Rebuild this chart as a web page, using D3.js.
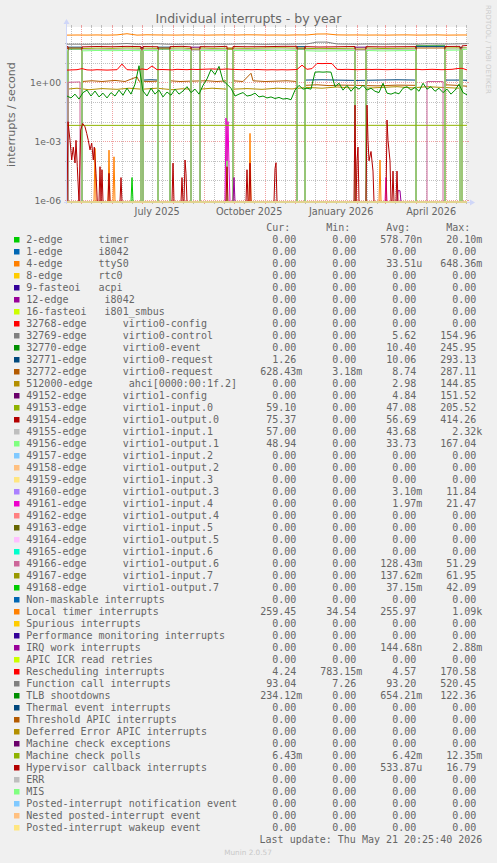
<!DOCTYPE html>
<html><head><meta charset="utf-8">
<script src="https://cdn.jsdelivr.net/npm/d3@7"></script>
<style>
html,body{margin:0;padding:0;background:#F0F0F0;}
svg{display:block;}
</style></head><body>
<svg id="c" width="497" height="863"></svg>
<script>
// ---------------- DATA ----------------
const startTime = Date.UTC(2025,3,16,20,25,40);
const endTime = Date.UTC(2026,4,21,20,25,40);
const yTickLabels = ["1e-06","1e-03","1e+00"];
const xTickLabels = ["July 2025","October 2025","January 2026","April 2026"];

const legendNames = [
"2-edge      timer","1-edge      i8042","4-edge      ttyS0","8-edge      rtc0","9-fasteoi   acpi",
"12-edge      i8042","16-fasteoi   i801_smbus","32768-edge      virtio0-config","32769-edge      virtio0-control",
"32770-edge      virtio0-event","32771-edge      virtio0-request","32772-edge      virtio0-request",
"512000-edge      ahci[0000:00:1f.2]","49152-edge      virtio1-config","49153-edge      virtio1-input.0",
"49154-edge      virtio1-output.0","49155-edge      virtio1-input.1","49156-edge      virtio1-output.1",
"49157-edge      virtio1-input.2","49158-edge      virtio1-output.2","49159-edge      virtio1-input.3",
"49160-edge      virtio1-output.3","49161-edge      virtio1-input.4","49162-edge      virtio1-output.4",
"49163-edge      virtio1-input.5","49164-edge      virtio1-output.5","49165-edge      virtio1-input.6",
"49166-edge      virtio1-output.6","49167-edge      virtio1-input.7","49168-edge      virtio1-output.7",
"Non-maskable interrupts","Local timer interrupts","Spurious interrupts","Performance monitoring interrupts",
"IRQ work interrupts","APIC ICR read retries","Rescheduling interrupts","Function call interrupts",
"TLB shootdowns","Thermal event interrupts","Threshold APIC interrupts","Deferred Error APIC interrupts",
"Machine check exceptions","Machine check polls","Hypervisor callback interrupts","ERR","MIS",
"Posted-interrupt notification event","Nested posted-interrupt event","Posted-interrupt wakeup event"];

const curVals = [0,0,0,0,0,0,0,0,0,0,1.26,0.62843,0,0,59.10,75.37,57.00,48.94,0,0,0,0,0,0,0,0,0,0,0,0,
0,259.45,0,0,0,0,4.24,93.04,0.23412,0,0,0,0,0.00643,0,0,0,0,0,0];
const minVals = [0,0,0,0,0,0,0,0,0,0,0,0.00318,0,0,0,0,0,0,0,0,0,0,0,0,0,0,0,0,0,0,
0,34.54,0,0,0,0,0.78315,7.26,0,0,0,0,0,0,0,0,0,0,0,0];
const avgVals = [578.70e-9,0,33.51e-6,0,0,0,0,0,5.62,10.40,10.06,8.74,2.98,4.84,47.08,56.69,43.68,33.73,0,0,0,
3.10e-3,1.97e-3,0,0,0,0,128.43e-3,137.62e-3,37.15e-3,0,255.97,0,0,144.68e-9,0,4.57,93.20,654.21e-3,0,0,0,0,
6.42e-3,533.87e-6,0,0,0,0,0];
const maxVals = [20.10e-3,0,648.36e-3,0,0,0,0,0,154.96,245.95,293.13,287.11,144.85,151.52,205.52,414.26,2320,167.04,0,0,0,
11.84,21.47,0,0,0,0,51.29,61.95,42.09,0,1090,0,0,2.88e-3,0,170.58,520.45,122.36,0,0,0,0,12.35e-3,16.79,0,0,0,0,0];

// series values: [day offset from start, interrupts / second]
const zeroSeries = [[0,0],[400,0]];
const timerSpikes = [[0,0],[64,0],[65,1.4e-5],[66,0],[400,0]];
const ttyS0Spikes = [[0,0],[27,0],[28,4.3e-4],[29,0],[41,0],[42,3.5e-4],[43,0],[46,0],[47,1.6e-4],[48,0],[182,0],[183,2.5e-3],[184,0],[312,0],[313,1.1e-4],[314,0],[400,0]];
const virtio0Control = [[0,0],[124,0],[124,45],[133,45],[133,0],[288,0],[288,45],[299,45],[299,0],[400,0]];
const virtio0Event = [[0,0],[1,0],[1,50],[15,50],[15,0],[91,0],[91,50],[103,50],[103,0],[160,0],[160,50],[166,50],[166,0],[230,0],[230,50],[238,50],[238,0],[349,0],[349,72],[378,72],[378,0],[400,0]];
const virtio0Req1 = [[0,0],[1,0],[1,62],[15,62],[15,0],[76,0],[76,1.3],[84,1.35],[91,1.3],[91,62],[103,62],[103,0],[230,0],[230,66],[238,66],[238,1.3],[255,1.35],[270,1.3],[290,1.25],[310,1.3],[330,1.35],[349,1.3],[349,66],[378,66],[378,1.3],[393,1.3],[393,60],[395,60],[395,1.3],[400,1.26]];
const virtio0Req2 = [[0,1.1],[1,1.1],[1,56],[15,56],[15,1.1],[25,1.2],[35,1.1],[48,1.25],[58,1.1],[70,1.9],[72,1.15],[82,1.1],[91,1.15],[91,56],[103,56],[103,1.2],[113,1.1],[124,1.15],[140,1.2],[150,1.1],[160,1.2],[160,56],[166,56],[166,1.2],[176,1.1],[184,2.9],[186,1.2],[198,1.1],[210,1.15],[220,1.2],[230,1.1],[230,56],[238,56],[238,0.7],[250,0.75],[262,0.68],[275,0.72],[290,0.7],[310,0.66],[330,0.72],[349,0.7],[349,56],[378,56],[378,0.75],[390,0.7],[400,0.63]];
const ahci = [[0,0.45],[10,0.5],[22,0.42],[35,0.48],[50,0.44],[62,0.5],[74,0.45],[74,50],[76,50],[76,0.45],[90,0.5],[105,0.42],[115,0.47],[124,0.45],[124,50],[133,50],[133,0.45],[145,0.5],[160,0.45],[160,50],[166,50],[166,0.45],[180,0.48],[195,0.44],[210,0.5],[225,0.46],[240,0.55],[255,0.5],[270,0.58],[288,0.5],[288,50],[299,50],[299,0.5],[315,0.55],[330,0.6],[345,0.52],[360,0.6],[375,0.55],[393,0.5],[393,50],[395,50],[395,0],[400,0]];
const virtio1Config = [[0,0],[74,0],[74,60],[76,60],[76,0],[124,0],[124,62],[133,62],[133,0],[288,0],[288,62],[299,62],[299,0],[400,0]];
const virtio1In0 = [[0,54],[1,54],[1,0],[15,0],[15,53],[30,55],[45,54],[60,56],[74,55],[74,0],[76,0],[76,55],[91,54],[91,0],[103,0],[103,55],[115,56],[124,53],[124,0],[133,0],[133,56],[146,54],[160,55],[160,0],[166,0],[166,55],[180,54],[200,56],[215,57],[230,55],[230,0],[238,0],[238,54],[252,52],[265,53],[278,54],[288,55],[288,0],[299,0],[299,56],[315,53],[330,54],[349,55],[349,0],[378,0],[378,56],[393,57],[393,0],[395,0],[395,58],[400,59.1]];
const virtio1Out0 = [[0,66],[1,66],[1,0],[15,0],[15,64],[30,67],[45,65],[60,68],[74,66],[74,0],[76,0],[76,67],[91,65],[91,0],[103,0],[103,66],[115,68],[124,64],[124,0],[133,0],[133,66],[146,65],[160,68],[160,0],[166,0],[166,67],[180,65],[200,66],[215,68],[230,68],[230,0],[238,0],[238,66],[252,63],[265,64],[278,66],[288,67],[288,0],[299,0],[299,66],[315,64],[330,65],[349,66],[349,0],[378,0],[378,67],[393,68],[393,0],[395,0],[395,72],[400,75.4]];
const virtio1In1 = [[0,47],[1,47],[1,0],[15,0],[15,46],[30,48],[45,47],[60,49],[74,47],[74,0],[76,0],[76,48],[91,47],[91,0],[103,0],[103,48],[115,49],[124,46],[124,0],[133,0],[133,48],[146,47],[160,48],[160,0],[166,0],[166,48],[180,47],[200,48],[215,50],[230,48],[230,0],[238,0],[238,47],[252,45],[265,46],[278,47],[288,48],[288,0],[299,0],[299,48],[315,46],[330,47],[349,48],[349,0],[378,0],[378,49],[393,50],[393,0],[395,0],[395,54],[400,57]];
const virtio1Out1 = [[0,41],[1,41],[1,0],[15,0],[15,40],[30,42],[45,41],[60,42],[74,41],[74,0],[76,0],[76,42],[91,41],[91,0],[103,0],[103,42],[115,43],[124,40],[124,0],[133,0],[133,42],[146,41],[160,42],[160,0],[166,0],[166,42],[180,41],[200,42],[215,43],[230,42],[230,0],[238,0],[238,41],[252,39],[265,40],[278,41],[288,42],[288,0],[299,0],[299,42],[315,40],[330,41],[349,42],[349,0],[378,0],[378,43],[393,44],[393,0],[395,0],[395,46],[400,48.9]];
const virtio1In4 = [[0,0],[158,0],[159,0.015],[160,1e-4],[161,0.01],[162,5e-5],[163,0],[318,0],[319,1.4e-5],[320,0],[400,0]];
const virtio1Out6 = [[0,0],[1,0],[1,1.0],[13,1.05],[13,0],[360,0],[360,1.1],[376,1.1],[376,0],[400,0]];
const irqWork = [[0,0],[166,0],[167,1.4e-5],[168,0],[330,0],[331,3e-6],[333,3e-6],[334,0],[400,0]];
// sampled every 10 days
const localTimer = [255,258,256,260,255,262,300,255,265,260,258,256,262,258,255,260,262,258,265,262,256,258,255,262,260,290,292,262,258,260,256,258,255,260,262,256,258,262,255,258,259];
const functionCall = [88,88,87,89,88,90,95,88,90,92,88,87,89,88,90,89,88,90,92,88,87,89,88,90,91,112,112,90,89,88,90,89,88,90,89,88,92,90,89,91,93];
// sampled every 5 days
const rescheduling = [4.2,4.3,4.4,5.0,4.3,4.2,4.4,4.3,4.2,4.3,4.4,8.5,4.4,4.3,4.2,4.8,4.4,6.8,4.4,4.5,4.4,4.3,4.6,4.5,4.4,4.6,4.5,4.6,4.7,4.8,4.7,4.6,4.8,4.6,4.5,4.4,4.5,4.4,4.5,4.4,4.3,4.4,4.3,4.4,4.3,4.4,4.5,7.5,4.6,5.0,9.2,9.0,9.2,9.0,4.6,4.5,4.6,4.5,4.4,4.5,4.6,4.5,4.6,4.5,4.4,4.5,4.6,4.5,4.6,4.5,4.6,4.4,4.5,4.6,4.5,4.4,4.5,4.6,5.0,5.2,4.3];
// sampled every 4 days
const tlbShootdowns = [0.2,0.16,0.25,0.14,0.3,0.4,0.2,0.36,0.18,0.28,0.16,0.3,0.2,0.4,0.22,0.5,0.25,0.8,7,0.36,0.2,0.5,0.25,0.4,0.18,0.32,0.22,0.45,0.25,0.36,0.6,0.3,0.45,0.25,0.7,1.5,4.5,2.5,6.5,1.2,0.8,0.5,0.2,0.25,0.3,0.2,0.22,0.28,0.18,0.2,0.16,0.18,0.15,0.17,0.14,0.15,0.13,0.4,0.7,0.45,0.5,0.45,3.3,3.4,3.3,3.4,3.3,0.6,0.9,0.4,0.7,0.35,0.6,0.45,0.7,0.4,0.5,0.35,0.3,0.9,0.28,0.25,0.3,0.26,0.5,0.6,0.4,0.55,0.35,0.9,0.45,0.6,0.35,0.5,0.3,0.45,0.25,0.4,0.8,0.3,0.23];
const mcPolls = [[0,6.4e-3],[100,6.4e-3],[200,6.42e-3],[300,6.42e-3],[400,6.43e-3]];
const hypervisor = [[0,0],[1,0.0098],[3,0.0011],[4.7,1.1e-4],[6.3,5e-4],[8,7.7e-5],[9,1.1e-3],[10.3,5e-5],[12,0],[13.7,3.7e-3],[15.7,8e-3],[18,5.4e-3],[19.7,2.5e-3],[21.3,1.1e-3],[23,3.6e-4],[24.7,8e-4],[26.3,1.1e-4],[27.3,5e-4],[29,2.3e-5],[30.3,0],[32,0],[33,5e-5],[34,0],[35,3.5e-5],[36,0],[41,0],[42,2.3e-5],[43,0],[53,0],[54,1.4e-5],[55,0],[105,0],[106,7.6e-5],[107,0],[114,0],[115,1.4e-5],[116,0],[117,0],[118,1.1e-4],[119,2.3e-5],[120,0],[159,0],[160,5e-5],[161,0],[179,0],[180,3.5e-5],[181,0],[182,0],[183,7.6e-5],[184,0],[207,0],[208,4e-5],[209,8e-5],[210,0],[287,0],[288,0.069],[289,0],[290,1e-4],[291,5e-4],[292,0],[299,0],[300,0.069],[301,1.1e-3],[302,1e-4],[304,3e-4],[306,3e-5],[307,0],[319,0],[320,0.012],[321,1.1e-3],[323,1e-4],[324,0],[325,0],[326,3e-5],[327,0],[329,0],[330,3e-5],[331,0],[400,0]];

const seriesColors = ["#00CC00","#0066B3","#FF8000","#FFCC00","#330099","#990099","#CCFF00","#FF0000","#808080","#008F00","#00487D","#B35A00","#B38F00","#6B006B","#8FB300","#B30000","#BEBEBE","#80FF80","#80C9FF","#FFC080","#FFE680","#AA80FF","#EE00CC","#FF8080","#666600","#FFBFFF","#00FFCC","#CC6699","#999900",
"#00CC00","#0066B3","#FF8000","#FFCC00","#330099","#990099","#CCFF00","#FF0000","#808080","#008F00","#00487D","#B35A00","#B38F00","#6B006B","#8FB300","#B30000","#BEBEBE","#80FF80","#80C9FF","#FFC080","#FFE680"];

const regular = (arr, step) => arr.map((v,i)=>[i*step, v]);
const seriesData = [
 timerSpikes, zeroSeries, ttyS0Spikes, zeroSeries, zeroSeries, zeroSeries, zeroSeries, zeroSeries,
 virtio0Control, virtio0Event, virtio0Req1, virtio0Req2, ahci, virtio1Config, virtio1In0, virtio1Out0,
 virtio1In1, virtio1Out1, zeroSeries, zeroSeries, zeroSeries, zeroSeries, virtio1In4, zeroSeries,
 zeroSeries, zeroSeries, zeroSeries, virtio1Out6, zeroSeries, zeroSeries,
 zeroSeries, regular(localTimer,10), zeroSeries, zeroSeries, irqWork, zeroSeries, regular(rescheduling,5),
 regular(functionCall,10), regular(tlbShootdowns,4), zeroSeries, zeroSeries, zeroSeries, zeroSeries,
 mcPolls, hypervisor, zeroSeries, zeroSeries, zeroSeries, zeroSeries, zeroSeries];

// ---------------- DRAW ----------------
const svg = d3.select("#c");
const X0 = 67, X1 = 467, YB = 202, YT = 27;
const DAY = 86400000;
const x = d3.scaleUtc().domain([new Date(startTime), new Date(endTime)]).range([X0, X1]);
const yMin = Math.pow(10,-6.1), yMax = Math.pow(10,2.82);
const y = d3.scaleLog().domain([yMin, yMax]).range([YB, YT]);
const dd = d => new Date(startTime + d*DAY);

svg.append("rect").attr("width",497).attr("height",863).attr("fill","#F0F0F0");
svg.append("rect").attr("x",X0).attr("y",YT).attr("width",X1-X0).attr("height",YB-YT).attr("fill","#FFFFFF");

const gridMinor = "rgba(160,160,160,0.65)", gridMajor = "rgba(230,110,110,0.65)";
const g = svg.append("g");
// horizontal grid
for (let e=-6; e<=2; e++){
  const yy = Math.round(y(Math.pow(10,e)))+0.5;
  const col = (e%3===0) ? gridMajor : gridMinor;
  g.append("line").attr("x1",X0).attr("x2",X1).attr("y1",yy).attr("y2",yy)
    .attr("stroke",col).attr("stroke-dasharray","1,1");
  g.append("line").attr("x1",X0-2).attr("x2",X0).attr("y1",yy).attr("y2",yy).attr("stroke",col);
  g.append("line").attr("x1",X1).attr("x2",X1+2).attr("y1",yy).attr("y2",yy).attr("stroke",col);
}
// vertical grid
const days = d3.utcDay.range(new Date(startTime), new Date(endTime));
days.forEach(dt=>{
  const md = dt.getUTCDate();
  if (md!==1 && md!==11 && md!==21) return;
  const col = md===1 ? gridMajor : gridMinor;
  const xx = Math.round(x(dt))+0.5;
  g.append("line").attr("x1",xx).attr("x2",xx).attr("y1",YT).attr("y2",YB)
    .attr("stroke",col).attr("stroke-dasharray","1,1");
  g.append("line").attr("x1",xx).attr("x2",xx).attr("y1",YB).attr("y2",YB+2).attr("stroke",col);
  g.append("line").attr("x1",xx).attr("x2",xx).attr("y1",YT-2).attr("y2",YT).attr("stroke",col);
});

// axes
const axisCol = "#CFD6F8";
svg.append("line").attr("x1",X0-0.5).attr("x2",X0-0.5).attr("y1",YB+2).attr("y2",YT-4).attr("stroke",axisCol);
svg.append("line").attr("x1",X0-3).attr("x2",X1+4).attr("y1",YB+0.5).attr("y2",YB+0.5).attr("stroke",axisCol);
svg.append("path").attr("d",`M${X0-3.5},${YT-3} L${X0-0.5},${YT-8} L${X0+2.5},${YT-3} Z`).attr("fill",axisCol);
svg.append("path").attr("d",`M${X1+3},${YB-2.5} L${X1+8},${YB+0.5} L${X1+3},${YB+3.5} Z`).attr("fill",axisCol);

// data lines
svg.append("clipPath").attr("id","clip").append("rect").attr("x",X0).attr("y",YT).attr("width",X1-X0).attr("height",YB-YT+1);
const lineGen = d3.line().x(d=>x(dd(d[0]))).y(d=>y(Math.max(d[1], yMin)));
const dg = svg.append("g").attr("clip-path","url(#clip)");
seriesData.forEach((s,i)=>{
  dg.append("path").attr("d", lineGen(s)).attr("fill","none")
    .attr("stroke", seriesColors[i]).attr("stroke-width",1).attr("stroke-linejoin","round");
});

// axis labels
const fontCol = "#666666";
yTickLabels.forEach((t,i)=>{
  svg.append("text").attr("x",61).attr("y",y(Math.pow(10,-6+3*i))+3.5)
    .attr("text-anchor","end").attr("font-family","DejaVu Sans").attr("font-size",9.2)
    .attr("fill",fontCol).text(t);
});
const labelMonths = [new Date(Date.UTC(2025,6,1)),new Date(Date.UTC(2025,9,1)),new Date(Date.UTC(2026,0,1)),new Date(Date.UTC(2026,3,1))];
xTickLabels.forEach((t,i)=>{
  svg.append("text").attr("x",x(new Date(labelMonths[i].getTime()+15*DAY))).attr("y",215)
    .attr("text-anchor","middle").attr("font-family","DejaVu Sans").attr("font-size",9.7)
    .attr("fill",fontCol).text(t);
});
svg.append("text").attr("transform","translate(14.5,114.5) rotate(-90)").attr("text-anchor","middle")
  .attr("font-family","DejaVu Sans").attr("font-size",11.1).attr("fill",fontCol).text("interrupts / second");
svg.append("text").attr("x",248.5).attr("y",22.5).attr("text-anchor","middle")
  .attr("font-family","DejaVu Sans").attr("font-size",12.5).attr("fill",fontCol).text("Individual interrupts - by year");
svg.append("text").attr("transform","translate(485.5,5) rotate(90)").attr("text-anchor","start")
  .attr("font-family","DejaVu Sans").attr("font-size",6.9).attr("fill","#cccccc").text("RRDTOOL / TOBI OETIKER");

// legend
const LX = 26.3, CW = 6.0, FS = 10;
function fmt(v){
  if (v===0) return ["0.00",""];
  let e = Math.floor(Math.log10(Math.abs(v))/3 + 1e-9);
  e = Math.max(-3, Math.min(3, e));
  const suf = ["n","u","m","","k","M","G"][e+3];
  return [(v/Math.pow(1000,e)).toFixed(2), suf];
}
const lg = svg.append("g").attr("font-family","DejaVu Sans Mono").attr("font-size",FS).attr("fill",fontCol);
const hdr = ["Cur:","Min:","Avg:","Max:"];
hdr.forEach((h,j)=>{
  lg.append("text").attr("x",LX+CW*(44+10*j)).attr("y",231.3).attr("text-anchor","end").text(h);
});
const cols = [curVals,minVals,avgVals,maxVals];
legendNames.forEach((nm,i)=>{
  const by = 243.3 + 12*i;
  svg.append("rect").attr("x",14).attr("y",by-6.3).attr("width",5.5).attr("height",5.5).attr("fill",seriesColors[i]);
  lg.append("text").attr("x",LX).attr("y",by).attr("xml:space","preserve").style("white-space","pre").text(nm);
  cols.forEach((arr,j)=>{
    const [num,suf] = fmt(arr[i]);
    const rx = LX+CW*(45+10*j);
    lg.append("text").attr("x",rx).attr("y",by).attr("text-anchor","end").text(num);
    if (suf) lg.append("text").attr("x",rx).attr("y",by).text(suf);
  });
});
lg.append("text").attr("x",LX+CW*76).attr("y",243.3+12*50).attr("text-anchor","end")
  .style("white-space","pre").text("Last update: Thu May 21 20:25:40 2026");
svg.append("text").attr("x",248).attr("y",854.5).attr("text-anchor","middle")
  .attr("font-family","DejaVu Sans").attr("font-size",7.3).attr("fill","#c8c8c8").text("Munin 2.0.57");
</script>
</body></html>
